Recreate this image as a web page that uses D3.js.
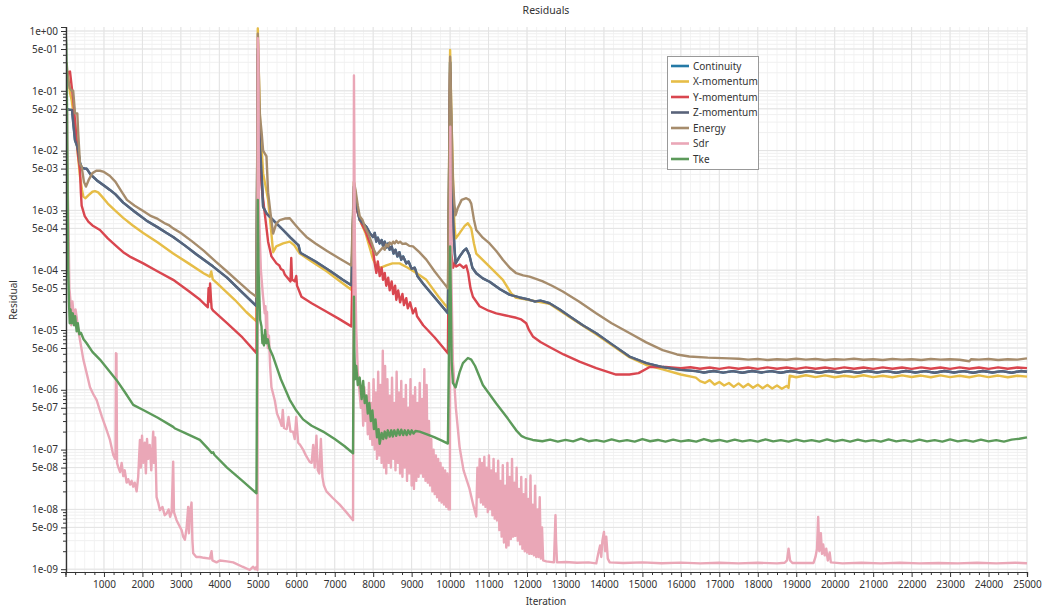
<!DOCTYPE html>
<html>
<head>
<meta charset="utf-8">
<script src="https://cdn.jsdelivr.net/npm/d3@7/dist/d3.min.js"></script>
<style>
  body { margin: 0; background: #ffffff; }
  text { font-family: "Noto Sans", "Open Sans", sans-serif; fill: #333; }
</style>
</head>
<body>
<svg id="chart" width="1043" height="609"></svg>
<script>
// ---- series: [iteration, residual] ----
const xMomentum = [
  [10,0.25],[60,0.2],[120,0.09],[160,0.07],[200,0.045],[247,0.028],[300,0.012],[377,3.7e-3],[430,2.2e-3],[464,1.7e-3],
  [520,1.6e-3],[600,1.8e-3],[700,2.05e-3],[766,2.1e-3],[850,2.0e-3],[950,1.7e-3],[1100,1.3e-3],[1286,1.0e-3],[1500,7.5e-4],
  [1750,5.6e-4],[2021,4.2e-4],[2400,2.9e-4],[2800,1.9e-4],[3200,1.3e-4],[3600,8.8e-5],[3753,7.8e-5],[3790,9.5e-5],[3830,7.0e-5],
  [4000,5.6e-5],[4400,3.2e-5],[4700,2.0e-5],[4966,1.4e-5],
  [5000,1.1],[5020,0.3],[5060,3e-2],[5138,4.2e-3],[5268,1.5e-3],[5330,6e-4],[5398,2.0e-4],[5480,2.5e-4],[5658,2.8e-4],
  [5831,3.0e-4],[5950,2.6e-4],[6091,1.9e-4],[6400,1.4e-4],[6800,9.5e-5],[7100,6.8e-5],[7433,4.7e-5],
  [7500,3e-3],[7560,1.5e-3],[7650,7e-4],[7800,4.2e-4],[7900,2.5e-4],[8000,1.5e-4],[8100,1.15e-4],[8200,1.1e-4],[8343,1.2e-4],
  [8500,1.3e-4],[8688,1.3e-4],[8900,1.1e-4],[9121,9e-5],[9382,6.9e-5],[9700,3.6e-5],[9943,2.3e-5],
  [10000,0.48],[10030,5e-2],[10073,4e-3],[10110,6e-4],[10143,3.4e-4],[10250,4.2e-4],[10380,5.5e-4],[10463,6.1e-4],[10550,5e-4],
  [10620,2.8e-4],[10680,1.9e-4],[11026,1.15e-4],[11372,6.9e-5],[11589,4.1e-5],[11700,3.5e-5],[12065,3.15e-5],[12584,2.75e-5],
  [13104,1.65e-5],[13797,8.5e-6],[14662,3.5e-6],[15100,2.6e-6],[15527,2.2e-6],[16000,1.8e-6],[16390,1.6e-6],
  [16500,1.4e-6],[16625,1.3e-6],[16750,1.45e-6],[16875,1.22e-6],[17000,1.35e-6],[17125,1.18e-6],[17250,1.3e-6],[17375,1.12e-6],
  [17500,1.28e-6],[17625,1.1e-6],[17750,1.25e-6],[17875,1.08e-6],[18000,1.22e-6],[18125,1.06e-6],[18250,1.2e-6],[18375,1.05e-6],
  [18500,1.18e-6],[18625,1.04e-6],[18750,1.16e-6],[18800,1.08e-6],[18830,1.72e-6],[19000,1.62e-6],[19250,1.75e-6],[19500,1.63e-6],
  [19750,1.74e-6],[20000,1.62e-6],[20250,1.72e-6],[20500,1.64e-6],[20750,1.75e-6],[21000,1.63e-6],[21250,1.72e-6],[21500,1.62e-6],
  [21750,1.74e-6],[22000,1.64e-6],[22250,1.73e-6],[22500,1.62e-6],[22750,1.74e-6],[23000,1.63e-6],[23250,1.72e-6],[23500,1.62e-6],
  [23750,1.74e-6],[24000,1.63e-6],[24250,1.73e-6],[24500,1.62e-6],[24750,1.72e-6],[25000,1.66e-6]
];

const yMomentum = [
  [0,0.12],[60,0.2],[117,0.21],[160,0.12],[203,0.07],[250,0.03],[290,0.015],[330,8e-3],[377,4.7e-3],[400,2e-3],[420,1.2e-3],
  [500,8e-4],[593,6.5e-4],[700,5.6e-4],[896,4.7e-4],[1100,3.4e-4],[1329,2.5e-4],[1500,2.0e-4],[1700,1.65e-4],[2021,1.3e-4],
  [2400,9.5e-5],[2800,6.9e-5],[3200,4.5e-5],[3500,3.2e-5],[3667,2.5e-5],[3700,2.4e-5],[3720,5e-5],[3740,3e-5],[3760,6e-5],
  [3780,3.5e-5],[3800,2.3e-5],[3840,2.1e-5],[4200,1.3e-5],[4600,7.5e-6],[4966,4.1e-6],
  [5000,0.4],[5020,0.1],[5050,1e-2],[5100,2.5e-3],[5200,7e-4],[5268,3e-4],[5355,1.7e-4],[5485,1.3e-4],[5560,1.2e-4],[5600,1.05e-4],
  [5658,1e-4],[5700,8.5e-5],[5850,6.5e-5],[5870,1.6e-4],[5890,7e-5],[5960,6.5e-5],[6000,8e-5],[6020,5.5e-5],[6048,5e-5],
  [6135,3.6e-5],[6400,2.8e-5],[6800,2e-5],[7100,1.55e-5],[7433,1.15e-5],
  [7500,2e-3],[7550,1.2e-3],[7600,9e-4],[7700,6e-4],[7800,4.5e-4],[7900,3e-4],[7996,2.2e-4],[8040,1.3e-4],[8083,9e-5],
  [8120,1.4e-4],[8170,8e-5],[8220,1.1e-4],[8256,6.9e-5],[8300,9e-5],[8340,5.5e-5],[8390,7.5e-5],[8430,4.6e-5],[8480,6.5e-5],
  [8520,4e-5],[8570,5.5e-5],[8602,3.2e-5],[8650,4.6e-5],[8700,2.9e-5],[8760,4e-5],[8800,2.6e-5],[8860,3.4e-5],[8900,2.3e-5],
  [8960,2.9e-5],[9035,1.9e-5],[9100,2.3e-5],[9140,1.7e-5],[9300,1.2e-5],[9600,7.5e-6],[9943,4.1e-6],
  [10000,0.2],[10020,3e-3],[10031,1.9e-4],[10080,1.1e-4],[10110,1.3e-4],[10160,1.15e-4],[10250,1.25e-4],[10350,1.1e-4],
  [10420,1.2e-4],[10470,9e-5],[10530,5e-5],[10593,3.6e-5],[10766,2.5e-5],[11000,2.1e-5],[11200,1.9e-5],[11450,1.75e-5],
  [11719,1.6e-5],[11850,1.5e-5],[11979,1.3e-5],[12050,1.0e-5],[12152,7.8e-6],[12350,6.3e-6],[12584,5.2e-6],[12950,3.9e-6],
  [13364,2.95e-6],[13800,2.3e-6],[14316,1.8e-6],[14662,1.8e-6],[14900,1.9e-6],[15190,2.4e-6],[15600,2.4e-6],[16000,2.3e-6],
  [16250,2.38e-6],[16500,2.25e-6],[16750,2.36e-6],[17000,2.24e-6],[17250,2.37e-6],[17500,2.25e-6],[17750,2.36e-6],[18000,2.24e-6],
  [18250,2.37e-6],[18500,2.25e-6],[18750,2.36e-6],[19000,2.24e-6],[19250,2.37e-6],[19500,2.25e-6],[19750,2.36e-6],[20000,2.24e-6],
  [20250,2.37e-6],[20500,2.25e-6],[20750,2.36e-6],[21000,2.24e-6],[21250,2.37e-6],[21500,2.25e-6],[21750,2.36e-6],[22000,2.24e-6],
  [22250,2.37e-6],[22500,2.25e-6],[22750,2.36e-6],[23000,2.24e-6],[23250,2.37e-6],[23500,2.25e-6],[23750,2.36e-6],[24000,2.24e-6],
  [24250,2.37e-6],[24500,2.25e-6],[24750,2.36e-6],[25000,2.3e-6]
];

const zMomentum = [
  [0,0.06],[40,0.05],[100,0.048],[170,0.048],[200,0.03],[247,0.015],[300,0.012],[340,0.009],[377,6.2e-3],[420,5.2e-3],
  [500,5e-3],[550,5e-3],[650,4e-3],[810,3.2e-3],[1000,2.6e-3],[1156,2.2e-3],[1300,1.85e-3],[1501,1.35e-3],[1800,9.5e-4],
  [2100,6.8e-4],[2400,5.2e-4],[2600,4.3e-4],[2800,3.6e-4],[3100,2.6e-4],[3400,1.85e-4],[3840,1.15e-4],[4200,7.5e-5],
  [4600,4.2e-5],[4966,2.5e-5],
  [5000,0.5],[5020,0.1],[5050,1.5e-2],[5100,4e-3],[5138,1.15e-3],[5225,8.9e-4],[5398,6.9e-4],[5658,4.7e-4],[5850,3.5e-4],
  [6005,2.8e-4],[6060,2.6e-4],[6100,2e-4],[6135,1.9e-4],[6500,1.4e-4],[6900,9.5e-5],[7200,7e-5],[7433,5.6e-5],
  [7500,2.5e-3],[7550,1.3e-3],[7649,6.9e-4],[7740,6e-4],[7823,5.3e-4],[7910,4.2e-4],[7996,3.6e-4],[8040,4.2e-4],[8080,3e-4],
  [8120,3.5e-4],[8169,2.8e-4],[8220,3.2e-4],[8260,2.5e-4],[8300,3e-4],[8350,2.4e-4],[8390,2.8e-4],[8429,2.2e-4],[8480,2.5e-4],
  [8530,1.9e-4],[8580,2.2e-4],[8630,1.7e-4],[8680,2e-4],[8730,1.5e-4],[8780,1.7e-4],[8862,1.3e-4],[8920,1.4e-4],[9000,1.05e-4],
  [9080,1.1e-4],[9150,8e-5],[9294,6e-5],[9600,3.5e-5],[9943,1.9e-5],
  [10000,0.3],[10030,2e-2],[10073,1e-3],[10110,2.5e-4],[10143,1.3e-4],[10250,1.7e-4],[10350,2.1e-4],[10420,2.3e-4],[10500,1.8e-4],
  [10580,1.1e-4],[10680,8.9e-5],[10850,7.3e-5],[11026,6.4e-5],[11300,4.8e-5],[11545,3.9e-5],[11800,3.5e-5],[12065,3.2e-5],
  [12200,3.0e-5],[12350,3.1e-5],[12584,2.8e-5],[12850,2.2e-5],[13104,1.7e-5],[13450,1.2e-5],[13797,8.8e-6],[14200,5.8e-6],
  [14662,3.6e-6],[15100,2.8e-6],[15527,2.4e-6],[16000,2.15e-6],[16390,2.05e-6],
  [16600,1.95e-6],[16850,2.06e-6],[17100,1.94e-6],[17350,2.05e-6],[17600,1.93e-6],[17850,2.06e-6],[18100,1.95e-6],[18350,2.05e-6],
  [18600,1.93e-6],[18850,2.06e-6],[19100,1.95e-6],[19350,2.05e-6],[19600,1.93e-6],[19850,2.06e-6],[20100,1.95e-6],[20350,2.05e-6],
  [20600,1.93e-6],[20850,2.06e-6],[21100,1.95e-6],[21350,2.05e-6],[21600,1.93e-6],[21850,2.06e-6],[22100,1.95e-6],[22350,2.05e-6],
  [22600,1.93e-6],[22850,2.06e-6],[23100,1.95e-6],[23350,2.05e-6],[23600,1.93e-6],[23850,2.06e-6],[24100,1.95e-6],[24350,2.05e-6],
  [24600,1.93e-6],[24850,2.06e-6],[25000,2.0e-6]
];

// continuity residual sits underneath the Z-momentum curve
const continuity = zMomentum;

const energy = [
  [0,0.3],[30,0.29],[60,0.17],[110,0.11],[160,0.1],[200,0.1],[247,0.042],[307,0.042],[330,0.02],[377,6e-3],[420,5.4e-3],
  [480,3e-3],[532,2.5e-3],[600,3.2e-3],[700,4.2e-3],[800,4.6e-3],[896,4.6e-3],[1000,4.4e-3],[1150,3.8e-3],[1300,3.0e-3],
  [1450,2.1e-3],[1597,1.5e-3],[1800,1.2e-3],[2000,1.0e-3],[2200,8.2e-4],[2400,7.2e-4],[2600,6.0e-4],[2700,5.6e-4],[2800,5.0e-4],
  [3000,4.2e-4],[3300,3.0e-4],[3600,2.1e-4],[3900,1.4e-4],[4200,9.5e-5],[4500,6.4e-5],[4800,4.3e-5],[4966,3.6e-5],
  [5000,0.9],[5020,0.3],[5050,0.042],[5100,0.02],[5138,0.01],[5225,8e-3],[5268,2e-3],[5330,9e-4],[5398,4.1e-4],[5480,6e-4],
  [5571,6.9e-4],[5700,7.3e-4],[5831,7.4e-4],[5950,6e-4],[6091,4.7e-4],[6265,3.6e-4],[6500,2.8e-4],[6800,2.1e-4],[7100,1.6e-4],
  [7433,1.2e-4],
  [7500,3e-3],[7540,2.2e-3],[7600,1.2e-3],[7650,8e-4],[7720,7e-4],[7800,5e-4],[7880,4e-4],[7950,3e-4],[8020,2.2e-4],[8083,1.8e-4],
  [8170,2.1e-4],[8250,2.4e-4],[8300,2.2e-4],[8340,2.7e-4],[8390,2.5e-4],[8430,2.9e-4],[8480,2.7e-4],[8520,3.0e-4],[8560,2.8e-4],
  [8602,3.1e-4],[8650,2.85e-4],[8700,3.0e-4],[8760,2.75e-4],[8850,2.8e-4],[8940,2.55e-4],[9035,2.5e-4],[9200,2e-4],[9382,1.5e-4],
  [9600,9.5e-5],[9800,6.5e-5],[9943,5e-5],
  [10000,0.37],[10030,0.05],[10073,3.2e-3],[10110,1.3e-3],[10143,8.3e-4],[10200,1.1e-3],[10300,1.5e-3],[10420,1.6e-3],[10500,1.5e-3],
  [10550,1.3e-3],[10620,7e-4],[10680,4.7e-4],[10850,3.5e-4],[11026,2.8e-4],[11200,2.1e-4],[11372,1.5e-4],[11550,1.1e-4],
  [11719,8.9e-5],[11900,8.2e-5],[12065,7.8e-5],[12250,7.1e-5],[12411,6.5e-5],[12650,5.5e-5],[12930,4.4e-5],[13350,3.0e-5],
  [13797,1.9e-5],[14200,1.3e-5],[14662,8.9e-6],[15100,6.2e-6],[15527,4.6e-6],[15900,3.9e-6],[16220,3.6e-6],[16700,3.45e-6],
  [17260,3.35e-6],[17500,3.3e-6],[17750,3.2e-6],[18000,3.28e-6],[18250,3.15e-6],[18500,3.25e-6],[18750,3.18e-6],[19000,3.3e-6],
  [19250,3.2e-6],[19500,3.27e-6],[19750,3.15e-6],[20000,3.25e-6],[20250,3.2e-6],[20500,3.3e-6],[20750,3.18e-6],[21000,3.25e-6],
  [21250,3.15e-6],[21500,3.28e-6],[21750,3.2e-6],[22000,3.25e-6],[22250,3.15e-6],[22500,3.27e-6],[22750,3.2e-6],[23000,3.25e-6],
  [23250,3.18e-6],[23500,3.0e-6],[23550,3.25e-6],[23750,3.2e-6],[24000,3.27e-6],[24250,3.15e-6],[24500,3.25e-6],[24750,3.2e-6],
  [25000,3.35e-6]
];

const sdr = [
  [0,2e-6],[20,1e-2],[40,0.05],[60,2e-3],[80,5e-4],[100,5e-5],[130,3e-5],[150,1.2e-5],[180,3e-5],[220,1.5e-5],[260,2.2e-5],
  [290,1.66e-5],[330,1e-5],[377,6.8e-6],[464,3.2e-6],[550,1.9e-6],[637,1.1e-6],[720,8.5e-7],[810,6.7e-7],[950,3.5e-7],
  [1050,2.3e-7],[1156,1.45e-7],[1242,8.1e-8],[1290,7e-8],[1300,8e-8],[1312,4.1e-6],[1325,4e-6],[1340,6e-8],[1372,5.1e-8],
  [1420,4.2e-8],[1460,6e-8],[1502,3.6e-8],[1540,4.5e-8],[1589,2.8e-8],[1630,3.2e-8],[1680,2.6e-8],[1720,3e-8],[1761,2.4e-8],
  [1800,2.8e-8],[1850,2.0e-8],[1890,3.5e-8],[1935,1.45e-7],[1960,5e-8],[1990,1.7e-7],[2020,6e-8],[2060,1.3e-7],[2090,4e-8],
  [2120,1.5e-7],[2150,7e-8],[2190,1.2e-7],[2230,4.5e-8],[2281,2e-7],[2300,6e-8],[2330,1.6e-7],[2350,5e-8],[2368,1.6e-8],
  [2410,1.3e-8],[2455,9.7e-9],[2520,1.1e-8],[2580,8e-9],[2628,8.5e-9],[2680,1e-8],[2720,7.5e-9],[2760,9e-9],[2800,6.3e-8],
  [2820,9e-9],[2888,6.6e-9],[2950,5.5e-9],[3018,4.5e-9],[3060,3.5e-9],[3104,3.1e-9],[3150,5e-9],[3190,1.1e-8],[3210,4e-9],
  [3240,9e-9],[3277,1.3e-8],[3300,3e-9],[3320,1.85e-9],[3400,1.6e-9],[3493,1.6e-9],[3600,1.55e-9],[3753,1.5e-9],[3797,2e-9],
  [3820,1.4e-9],[3927,1.3e-9],[4013,1.4e-9],[4200,1.35e-9],[4360,1.3e-9],[4600,1.1e-9],[4792,9.7e-10],[4880,1.1e-9],
  [4930,1.0e-9],[4966,1.1e-9],[4990,9.7e-10],
  [5000,0.76],[5015,0.5],[5030,1e-3],[5080,1e-4],[5130,4e-5],[5180,1.9e-5],[5200,2.5e-5],[5220,8e-6],[5240,2e-5],[5260,5e-6],
  [5290,8e-6],[5320,2.5e-6],[5355,1.1e-6],[5441,6.7e-7],[5500,4e-7],[5571,3.1e-7],[5620,2.5e-7],[5650,4.6e-7],[5680,2.3e-7],
  [5750,2.2e-7],[5800,3.5e-7],[5850,2.0e-7],[5918,2e-7],[5960,1.5e-7],[6000,3.5e-7],[6050,1.3e-7],[6100,1.2e-7],[6177,1e-7],
  [6250,8e-8],[6351,6.2e-8],[6400,6e-8],[6440,1.2e-7],[6480,5e-8],[6524,1.7e-7],[6560,4.5e-8],[6600,4e-8],[6640,1.5e-7],
  [6680,3.5e-8],[6720,2.5e-8],[6784,2e-8],[6950,1.55e-8],[7130,1.2e-8],[7300,9e-9],[7476,6.6e-9],
  [7500,0.18],[7525,2e-4],[7560,1e-5],[7600,2e-6],[7640,1e-6],
  [7680,5e-7],[7710,9e-7],[7740,2.5e-7],[7770,1.1e-6],[7800,3e-7],[7830,8e-7],[7860,1.8e-7],[7890,1.3e-6],[7920,1.5e-7],
  [7950,6e-7],[7980,1.2e-7],[8010,1.5e-6],[8040,1e-7],[8070,9e-7],[8100,7e-8],[8130,2e-6],[8160,8e-8],[8190,1.2e-6],
  [8220,6e-8],[8250,4.5e-6],[8280,5e-8],[8310,2.5e-6],[8340,4e-8],[8370,1.5e-6],[8400,6e-8],[8430,8e-7],[8460,5e-8],
  [8490,1.6e-6],[8520,7e-8],[8550,6e-7],[8580,4.5e-8],[8610,2e-6],[8640,6e-8],[8670,9e-7],[8700,4e-8],[8730,1.4e-6],
  [8760,3.5e-8],[8790,7e-7],[8820,5e-8],[8850,1.2e-6],[8880,3e-8],[8910,5e-7],[8940,4e-8],[8970,1.5e-6],[9000,2.5e-8],
  [9030,8e-7],[9060,2.2e-8],[9090,1.1e-6],[9120,3e-8],[9150,6e-7],[9180,3.5e-8],[9210,1.3e-6],[9240,4e-8],[9270,7e-7],
  [9300,3.5e-8],[9330,2.2e-6],[9360,3e-8],[9390,1.2e-6],[9420,2.8e-8],[9450,3e-7],[9480,2.5e-8],[9510,1.5e-7],[9540,2e-8],
  [9570,1e-7],[9600,1.8e-8],[9630,8e-8],[9660,1.6e-8],[9690,7e-8],[9720,1.4e-8],[9750,6e-8],[9780,1.3e-8],[9810,5e-8],
  [9840,1.2e-8],[9870,4.5e-8],[9900,1.1e-8],[9930,4e-8],[9960,1e-8],[9995,1e-8],
  [10005,2.5e-2],[10030,1e-4],[10073,3e-6],[10150,5e-7],[10247,1.1e-7],[10350,4.5e-8],[10506,2.2e-8],[10600,1.2e-8],[10680,7.6e-9],
  [10710,5e-8],[10740,1.6e-8],[10770,7e-8],[10800,1.3e-8],[10830,6e-8],[10860,1.2e-8],[10890,7.5e-8],[10920,1.1e-8],[10950,5e-8],
  [10980,9e-9],[11010,8e-8],[11040,1e-8],[11070,4.5e-8],[11100,8e-9],[11130,7e-8],[11160,7e-9],[11190,4e-8],[11220,6.5e-9],
  [11250,6.5e-8],[11280,4.5e-9],[11310,3e-8],[11340,3.5e-9],[11370,5.5e-8],[11400,2.8e-9],[11430,2.5e-8],[11460,2.3e-9],
  [11490,6e-8],[11520,2.5e-9],[11550,3.5e-8],[11580,3.2e-9],[11610,7e-8],[11640,3.5e-9],[11670,2.8e-8],[11700,3.6e-9],
  [11730,5e-8],[11760,3e-9],[11790,2.2e-8],[11820,2.6e-9],[11850,3.5e-8],[11880,2.2e-9],[11910,1.8e-8],[11940,2e-9],
  [11970,3.2e-8],[12000,1.9e-9],[12030,1.5e-8],[12060,1.8e-9],[12090,3.7e-8],[12120,1.8e-9],[12150,1.2e-8],[12180,1.7e-9],
  [12210,2.5e-8],[12240,1.6e-9],[12270,1e-8],[12300,1.6e-9],[12330,1.6e-8],[12360,1.5e-9],[12390,5e-9],[12420,1.4e-9],
  [12500,1.35e-9],[12700,1.3e-9],[12725,4e-9],[12740,8e-9],[12755,3e-9],[12780,1.3e-9],[13000,1.32e-9],[13300,1.28e-9],
  [13600,1.3e-9],[13800,1.25e-9],[13850,1.8e-9],[13900,2.5e-9],[13930,1.6e-9],[13960,3e-9],[14000,4.2e-9],[14030,2e-9],
  [14060,3.5e-9],[14100,1.5e-9],[14150,1.3e-9],[14500,1.27e-9],[15000,1.3e-9],[15500,1.26e-9],[16000,1.29e-9],[16500,1.25e-9],
  [17000,1.28e-9],[17500,1.25e-9],[18000,1.28e-9],[18500,1.25e-9],[18700,1.28e-9],[18760,1.4e-9],[18800,2.2e-9],[18840,1.4e-9],
  [18900,1.27e-9],[19450,1.27e-9],[19500,1.6e-9],[19540,2.2e-9],[19570,7.5e-9],[19600,2e-9],[19640,4e-9],[19670,1.8e-9],
  [19700,2.6e-9],[19740,1.7e-9],[19780,2.2e-9],[19820,1.4e-9],[19870,1.9e-9],[19900,1.3e-9],[20200,1.25e-9],[20700,1.28e-9],
  [21200,1.25e-9],[21700,1.28e-9],[22200,1.25e-9],[22700,1.27e-9],[23200,1.25e-9],[23700,1.28e-9],[24200,1.25e-9],[24700,1.28e-9],
  [25000,1.26e-9]
];

const tke = [
  [0,1.0],[20,0.6],[40,0.05],[55,2e-3],[70,1e-4],[90,3e-5],[110,1.3e-5],[130,2.2e-5],[160,1.3e-5],[190,1.9e-5],[220,1.2e-5],
  [250,1.7e-5],[290,9.5e-6],[320,1.3e-5],[360,8.5e-6],[400,9e-6],[470,7e-6],[550,6e-6],[700,4.3e-6],[896,3.2e-6],[1100,2.2e-6],
  [1329,1.45e-6],[1550,9e-7],[1761,5.6e-7],[2021,4.6e-7],[2400,3.4e-7],[2800,2.4e-7],[2850,2.25e-7],[3100,1.9e-7],[3493,1.45e-7],
  [3700,1.05e-7],[3800,8.8e-8],[3840,9e-8],[3870,8.2e-8],[4200,5e-8],[4600,3e-8],[4966,1.86e-8],
  [5000,1.5e-3],[5020,1e-4],[5060,1.5e-5],[5096,1.15e-5],[5120,6e-6],[5138,8e-6],[5160,5.5e-6],[5190,1e-5],[5220,6e-6],
  [5260,7e-6],[5300,5e-6],[5398,3.6e-6],[5600,1.5e-6],[5831,6.8e-7],[6000,4.5e-7],[6177,3.2e-7],[6400,2.5e-7],[6697,2e-7],
  [7000,1.5e-7],[7250,1.15e-7],[7476,8.7e-8],
  [7500,3.6e-5],[7510,5e-6],[7530,1.5e-6],[7560,2.5e-6],[7600,1.2e-6],[7649,1.6e-6],[7700,7e-7],[7740,1.4e-6],[7780,6e-7],
  [7823,8e-7],[7860,4e-7],[7900,6e-7],[7940,3e-7],[7980,4.5e-7],[8020,2.2e-7],[8060,3.2e-7],[8100,1.6e-7],[8140,2.2e-7],
  [8169,1.25e-7],[8220,1.9e-7],[8260,1.5e-7],[8300,2.0e-7],[8340,1.55e-7],[8380,2.1e-7],[8429,1.65e-7],[8470,2.1e-7],
  [8510,1.65e-7],[8550,2.1e-7],[8600,1.7e-7],[8640,2.15e-7],[8690,1.75e-7],[8730,2.15e-7],[8780,1.75e-7],[8820,2.1e-7],
  [8870,1.75e-7],[8910,2.1e-7],[8960,1.8e-7],[9000,2.1e-7],[9050,1.85e-7],[9100,2.05e-7],[9208,2e-7],[9400,1.8e-7],
  [9600,1.6e-7],[9800,1.4e-7],[9943,1.26e-7],
  [10000,2.5e-4],[10040,3e-6],[10073,1.3e-6],[10143,1.1e-6],[10250,2e-6],[10333,2.8e-6],[10463,3.4e-6],[10550,3.2e-6],
  [10650,2.5e-6],[10852,1.2e-6],[11200,5.9e-7],[11500,3.3e-7],[11719,2.1e-7],[11850,1.7e-7],[11979,1.55e-7],[12150,1.45e-7],
  [12400,1.38e-7],[12600,1.47e-7],[12800,1.36e-7],[13000,1.45e-7],[13200,1.37e-7],[13400,1.52e-7],[13600,1.38e-7],[13800,1.44e-7],
  [14000,1.36e-7],[14200,1.48e-7],[14400,1.37e-7],[14600,1.44e-7],[14800,1.36e-7],[15000,1.5e-7],[15200,1.38e-7],[15400,1.45e-7],
  [15600,1.36e-7],[15800,1.47e-7],[16000,1.37e-7],[16200,1.43e-7],[16400,1.36e-7],[16600,1.5e-7],[16800,1.38e-7],[17000,1.45e-7],
  [17200,1.36e-7],[17400,1.47e-7],[17600,1.37e-7],[17800,1.44e-7],[18000,1.36e-7],[18200,1.48e-7],[18400,1.37e-7],[18600,1.44e-7],
  [18800,1.36e-7],[19000,1.47e-7],[19200,1.37e-7],[19400,1.44e-7],[19600,1.36e-7],[19800,1.48e-7],[20000,1.37e-7],[20200,1.45e-7],
  [20400,1.36e-7],[20600,1.47e-7],[20800,1.37e-7],[21000,1.44e-7],[21200,1.36e-7],[21400,1.48e-7],[21600,1.37e-7],[21800,1.44e-7],
  [22000,1.36e-7],[22200,1.47e-7],[22400,1.37e-7],[22600,1.44e-7],[22800,1.36e-7],[23000,1.48e-7],[23200,1.37e-7],[23400,1.44e-7],
  [23600,1.36e-7],[23800,1.47e-7],[24000,1.37e-7],[24200,1.44e-7],[24400,1.36e-7],[24600,1.47e-7],[24800,1.52e-7],[25000,1.6e-7]
];

const seriesNames  = ["Continuity", "X-momentum", "Y-momentum", "Z-momentum", "Energy", "Sdr", "Tke"];
const seriesColors = ["#2479a6", "#e6bd47", "#d9464f", "#59637a", "#a68c6c", "#eaa7b7", "#5c9a5a"];
const seriesData   = [continuity, xMomentum, yMomentum, zMomentum, energy, sdr, tke];

const xTickLabels = ["1000","2000","3000","4000","5000","6000","7000","8000","9000","10000","11000","12000","13000",
  "14000","15000","16000","17000","18000","19000","20000","21000","22000","23000","24000","25000"];
const yTickLabels = ["1e+00","5e-01","1e-01","5e-02","1e-02","5e-03","1e-03","5e-04","1e-04","5e-05","1e-05","5e-06",
  "1e-06","5e-07","1e-07","5e-08","1e-08","5e-09","1e-09"];

// ---- layout ----
const svg = d3.select("#chart");
const plot = { left: 66, right: 1027, top: 27, bottom: 572 };

const x = d3.scaleLinear().domain([0, 25000]).range([plot.left - 0.5, plot.right]);
const y = d3.scaleLog().domain([Math.pow(10, -9.047), Math.pow(10, 0.0669)]).range([plot.bottom, plot.top]);

// minor positions
const xMinor = d3.range(0, 25001, 250);
const yMinor = [];
for (let e = -9; e <= 0; e++) {
  for (let m = 1; m <= 9; m++) {
    const v = m * Math.pow(10, e);
    if (v >= y.domain()[0] && v <= y.domain()[1]) yMinor.push(v);
  }
}
const yMajor = yTickLabels.map(s => +s);
const xMajor = xTickLabels.map(s => +s);

// ---- grid ----
const grid = svg.append("g");
grid.selectAll(".xm").data(xMinor).join("line")
  .attr("x1", d => x(d)).attr("x2", d => x(d))
  .attr("y1", plot.top).attr("y2", plot.bottom)
  .attr("stroke", "#f3f3f3").attr("stroke-width", 1);
grid.selectAll(".ym").data(yMinor).join("line")
  .attr("x1", plot.left).attr("x2", plot.right)
  .attr("y1", d => y(d)).attr("y2", d => y(d))
  .attr("stroke", "#f0f0f0").attr("stroke-width", 1);
grid.selectAll(".xM").data(xMajor).join("line")
  .attr("x1", d => x(d)).attr("x2", d => x(d))
  .attr("y1", plot.top).attr("y2", plot.bottom)
  .attr("stroke", "#e3e3e3").attr("stroke-width", 1);
grid.selectAll(".yM").data(yMajor).join("line")
  .attr("x1", plot.left).attr("x2", plot.right)
  .attr("y1", d => y(d)).attr("y2", d => y(d))
  .attr("stroke", "#e3e3e3").attr("stroke-width", 1);

// ---- series ----
svg.append("clipPath").attr("id", "plotClip").append("rect")
  .attr("x", plot.left).attr("y", plot.top - 2)
  .attr("width", plot.right - plot.left + 1).attr("height", plot.bottom - plot.top + 2);

const line = d3.line().x(d => x(d[0])).y(d => y(d[1]));
const lines = svg.append("g").attr("clip-path", "url(#plotClip)");
seriesData.forEach((data, i) => {
  lines.append("path")
    .datum(data)
    .attr("d", line)
    .attr("fill", "none")
    .attr("stroke", seriesColors[i])
    .attr("stroke-width", 2.4)
    .attr("stroke-linejoin", "round")
    .attr("stroke-linecap", "butt");
});

// ---- axes ----
const xAxis = d3.axisBottom(x).tickValues(xMajor).tickSize(5).tickPadding(4).tickFormat((d, i) => xTickLabels[i]);
const xAxisMinor = d3.axisBottom(x).tickValues(xMinor.filter(v => v % 1000 !== 0)).tickSize(3).tickFormat("");
const gx = svg.append("g").attr("transform", `translate(0,${plot.bottom})`);
gx.call(xAxis);
svg.append("g").attr("transform", `translate(0,${plot.bottom})`).call(xAxisMinor);

const yAxis = d3.axisLeft(y).tickValues(yMajor).tickSize(5).tickPadding(3).tickFormat((d, i) => yTickLabels[i]);
const yAxisMinor = d3.axisLeft(y).tickValues(yMinor.filter(v => !yMajor.some(m => Math.abs(m - v) / v < 1e-6))).tickSize(3).tickFormat("");
svg.append("g").attr("transform", `translate(${plot.left},0)`).call(yAxis);
svg.append("g").attr("transform", `translate(${plot.left},0)`).call(yAxisMinor);

svg.selectAll(".domain").attr("stroke", "#333").attr("stroke-width", 1.2);
svg.selectAll(".tick line").attr("stroke", "#333");
svg.selectAll(".tick text").attr("font-size", 10).attr("fill", "#333")
  .style("font-family", '"Noto Sans", sans-serif');

// ---- titles ----
svg.append("text").attr("x", 546).attr("y", 14).attr("text-anchor", "middle")
  .attr("font-size", 10.5).text("Residuals");
svg.append("text").attr("x", 546).attr("y", 605).attr("text-anchor", "middle")
  .attr("font-size", 10).text("Iteration");
svg.append("text").attr("transform", "translate(17,300) rotate(-90)").attr("text-anchor", "middle")
  .attr("font-size", 10).text("Residual");

// ---- legend ----
const legend = svg.append("g").attr("transform", "translate(667,56)");
legend.append("rect").attr("x", 0.5).attr("y", 0.5).attr("width", 91).attr("height", 113)
  .attr("fill", "#fff").attr("stroke", "#999").attr("stroke-width", 1);
seriesNames.forEach((name, i) => {
  const ly = 10 + i * 15.5;
  legend.append("line").attr("x1", 4).attr("x2", 22).attr("y1", ly).attr("y2", ly)
    .attr("stroke", seriesColors[i]).attr("stroke-width", 2.6);
  legend.append("text").attr("x", 26).attr("y", ly).attr("dy", "0.35em")
    .attr("font-size", 10).text(name);
});
</script>
</body>
</html>
